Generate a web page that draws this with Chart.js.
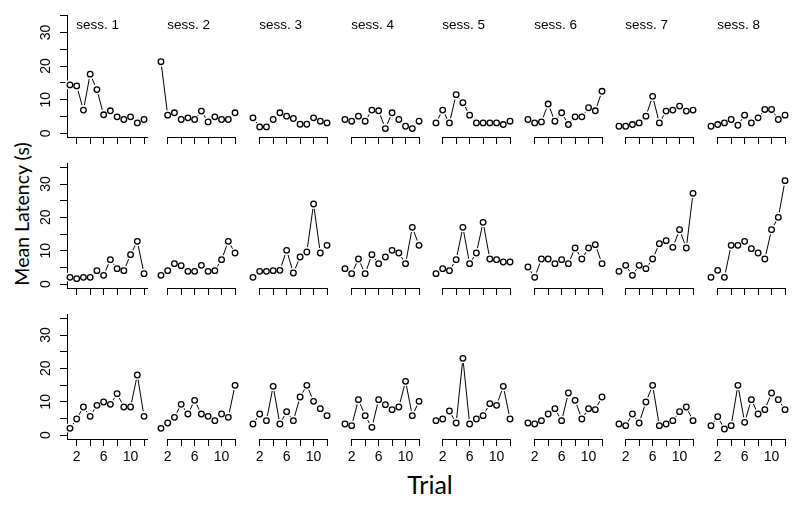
<!DOCTYPE html>
<html lang="en">
<head>
<meta charset="UTF-8">
<title>Mean Latency by Trial</title>
<script src="https://cdn.jsdelivr.net/npm/chart.js"></script>
<style>
  html, body { margin: 0; padding: 0; background: #fff; }
  #wrap { position: relative; width: 800px; height: 508px; overflow: hidden; }
  #wrap canvas { position: absolute; }
  .lbl { position: absolute; font-family: Lato, "Open Sans", sans-serif; color: #000; white-space: nowrap;
         transform: translate(-50%, -50%); line-height: 1; }
  #ylab { left: 22px; top: 214px; font-size: 19.5px; transform: translate(-50%, -50%) rotate(-90deg); }
  #xlab { left: 430px; top: 484px; font-size: 25px; }
</style>
</head>
<body>
<div id="wrap">
  <div class="lbl" id="ylab">Mean Latency (s)</div>
  <div class="lbl" id="xlab">Trial</div>
</div>
<script>
const trials = [1, 2, 3, 4, 5, 6, 7, 8, 9, 10, 11, 12];
const sessions = ['sess. 1', 'sess. 2', 'sess. 3', 'sess. 4', 'sess. 5', 'sess. 6', 'sess. 7', 'sess. 8'];
const xTickLabels = [2, 6, 10];
const yTickLabels = [0, 10, 20, 30];

// one list per session, top row
const latencyRow1 = [
  [14.4, 14.1, 6.9, 17.6, 13.0, 5.5, 6.7, 4.9, 4.1, 4.9, 3.1, 4.1],
  [21.3, 5.4, 6.1, 4.1, 4.6, 4.1, 6.6, 3.4, 4.9, 4.1, 4.1, 6.1],
  [4.6, 1.9, 1.9, 4.1, 6.1, 5.1, 4.4, 2.7, 2.7, 4.6, 3.6, 3.1],
  [4.1, 3.6, 5.1, 3.6, 6.9, 6.7, 1.4, 6.1, 4.1, 2.1, 1.4, 3.6],
  [3.1, 6.9, 3.1, 11.5, 9.1, 5.4, 3.1, 3.1, 3.1, 3.1, 2.6, 3.6],
  [4.1, 3.1, 3.4, 8.7, 3.6, 6.1, 2.6, 4.9, 4.9, 7.6, 6.7, 12.5],
  [2.1, 2.1, 2.6, 3.1, 5.1, 11.0, 3.1, 6.6, 6.9, 8.1, 6.6, 6.9],
  [2.1, 2.6, 3.1, 4.1, 2.4, 5.4, 3.1, 4.6, 7.1, 7.1, 4.1, 5.4]
];
const latencyRow2 = [
  [2.0, 1.6, 2.0, 2.0, 4.0, 2.6, 7.3, 4.6, 4.0, 8.8, 12.8, 3.1],
  [2.6, 4.0, 6.1, 5.5, 3.8, 3.8, 5.6, 3.8, 4.0, 7.3, 12.8, 9.3],
  [2.0, 3.8, 3.8, 4.0, 4.1, 10.1, 3.3, 8.1, 9.6, 24.0, 9.3, 11.6],
  [4.6, 3.1, 7.5, 3.1, 8.8, 6.1, 8.1, 10.1, 9.3, 6.1, 17.0, 11.6],
  [3.1, 4.6, 4.0, 7.3, 17.0, 6.1, 9.3, 18.5, 7.5, 7.3, 6.6, 6.6],
  [5.1, 2.0, 7.5, 7.5, 6.1, 7.3, 6.1, 10.8, 7.5, 10.8, 11.8, 6.1],
  [3.8, 5.6, 2.6, 5.6, 4.6, 7.5, 12.1, 13.0, 11.0, 16.3, 10.8, 27.2],
  [2.0, 4.1, 2.0, 11.6, 11.6, 12.8, 10.6, 9.3, 7.5, 16.3, 20.0, 31.0]
];
const latencyRow3 = [
  [2.0, 4.8, 8.4, 5.6, 8.9, 9.9, 9.2, 12.4, 8.4, 8.4, 18.0, 5.6],
  [2.0, 3.6, 5.3, 9.2, 6.3, 10.4, 6.3, 5.6, 4.3, 6.3, 5.3, 14.9],
  [3.3, 6.3, 4.3, 14.6, 3.3, 7.0, 4.3, 11.4, 14.9, 10.1, 7.9, 5.8],
  [3.3, 2.8, 10.6, 5.8, 2.3, 10.6, 9.1, 7.6, 8.4, 16.1, 5.8, 10.1],
  [4.3, 4.8, 7.2, 3.6, 23.0, 3.3, 4.8, 5.8, 9.4, 8.9, 14.6, 4.8],
  [3.6, 3.3, 4.3, 6.3, 7.9, 4.3, 12.6, 10.4, 4.8, 7.9, 7.6, 11.4],
  [3.3, 2.8, 6.3, 3.6, 9.9, 14.9, 2.8, 3.3, 4.3, 7.0, 8.4, 4.3],
  [2.8, 5.5, 1.8, 2.8, 14.9, 3.8, 10.6, 6.3, 7.6, 12.6, 10.6, 7.6]
];

const rows = [latencyRow1, latencyRow2, latencyRow3];

// panel layout (pixels)
const colTrial2X = [77, 168, 260, 352, 443, 535, 626, 718];
const rowTop = [15, 163, 314];
const rowH = [122, 125, 125];
const rowYRange = [[-1.1, 35.2], [-1.2, 36.3], [-1.2, 36.3]];
const AXIS_W = 40, PAD_T = 6, PAD_R = 6, XAXIS_H = 30, PLOT_W = 80;
const tickFont = { family: '"Liberation Sans", Arial, sans-serif', size: 14 };

// session name in the top row panels
const sessLabel = {
  id: 'sessLabel',
  afterDraw(chart, args, opts) {
    if (!opts.text) return;
    const { ctx, scales } = chart;
    ctx.save();
    ctx.font = '13.5px "Liberation Sans", Arial, sans-serif';
    ctx.fillStyle = '#000';
    ctx.textAlign = 'left';
    ctx.textBaseline = 'alphabetic';
    ctx.fillText(opts.text, scales.x.getPixelForValue(1.95), scales.y.getPixelForValue(31));
    ctx.restore();
  }
};

// R style axis line: runs from first to last tick only (panels without the L box)
const tickSpanLine = {
  id: 'tickSpanLine',
  afterDraw(chart, args, opts) {
    if (!opts.on) return;
    const { ctx, scales } = chart;
    const x = scales.x;
    const y = Math.round(x.top - 0.5) + 0.5;
    const x0 = Math.round(x.getPixelForValue(2) - 0.5);
    const x1 = Math.round(x.getPixelForValue(12) - 0.5) + 1;
    ctx.save();
    ctx.strokeStyle = '#000';
    ctx.lineWidth = 1;
    ctx.beginPath();
    ctx.moveTo(x0, y);
    ctx.lineTo(x1, y);
    ctx.stroke();
    ctx.restore();
  }
};

const wrap = document.getElementById('wrap');

rows.forEach((rowData, r) => {
  rowData.forEach((values, c) => {
    const first = c === 0;
    const plotLeft = colTrial2X[c] - 10;

    const canvas = document.createElement('canvas');
    canvas.width = AXIS_W + PLOT_W + PAD_R;
    canvas.height = PAD_T + rowH[r] + XAXIS_H;
    canvas.style.left = (plotLeft - AXIS_W) + 'px';
    canvas.style.top = (rowTop[r] - PAD_T) + 'px';
    wrap.appendChild(canvas);

    const points = trials.map((t, i) => ({ x: t, y: values[i] }));

    new Chart(canvas, {
      type: 'line',
      data: {
        datasets: [
          { // open circles
            data: points, showLine: false, order: 0, clip: false,
            pointRadius: 2.8, pointBorderWidth: 1.3,
            pointBorderColor: '#000', pointBackgroundColor: '#fff'
          },
          { // connecting line, white halo leaves a gap round each point
            data: points, order: 1, clip: false,
            borderColor: '#000', borderWidth: 1, tension: 0,
            pointRadius: 5, pointBorderWidth: 0,
            pointBorderColor: '#fff', pointBackgroundColor: '#fff'
          }
        ]
      },
      options: {
        responsive: false,
        animation: false,
        events: [],
        layout: { padding: { top: PAD_T, right: PAD_R, left: first ? 0 : AXIS_W, bottom: 0 } },
        plugins: {
          legend: { display: false },
          tooltip: { enabled: false },
          sessLabel: { text: r === 0 ? sessions[c] : '' },
          tickSpanLine: { on: !first }
        },
        scales: {
          x: {
            type: 'linear',
            min: 0.56,
            max: 12.44,
            z: 1,
            afterFit: s => { s.height = XAXIS_H; s.paddingLeft = 0; s.paddingRight = 0; },
            border: { display: first, color: '#000', width: 1 },
            grid: { drawOnChartArea: false, drawTicks: true, tickLength: 7, color: '#000', lineWidth: 1 },
            ticks: {
              display: r === 2, stepSize: 2, autoSkip: false, includeBounds: false,
              minRotation: 0, maxRotation: 0, padding: 3, color: '#000', font: tickFont,
              callback: v => xTickLabels.includes(v) ? String(v) : ''
            }
          },
          y: {
            type: 'linear',
            display: first,
            min: rowYRange[r][0],
            max: rowYRange[r][1],
            z: 1,
            afterFit: first ? (s => { s.width = AXIS_W; s.paddingTop = 0; s.paddingBottom = 0; }) : undefined,
            border: { display: true, color: '#000', width: 1 },
            grid: { drawOnChartArea: false, drawTicks: true, tickLength: 7, color: '#000', lineWidth: 1 },
            ticks: {
              stepSize: 5, autoSkip: false, includeBounds: false,
              minRotation: 90, maxRotation: 90, crossAlign: 'center', padding: 6,
              color: '#000', font: tickFont,
              callback: v => yTickLabels.includes(v) ? String(v) : ''
            }
          }
        }
      },
      plugins: [sessLabel, tickSpanLine]
    });
  });
});
</script>
</body>
</html>
